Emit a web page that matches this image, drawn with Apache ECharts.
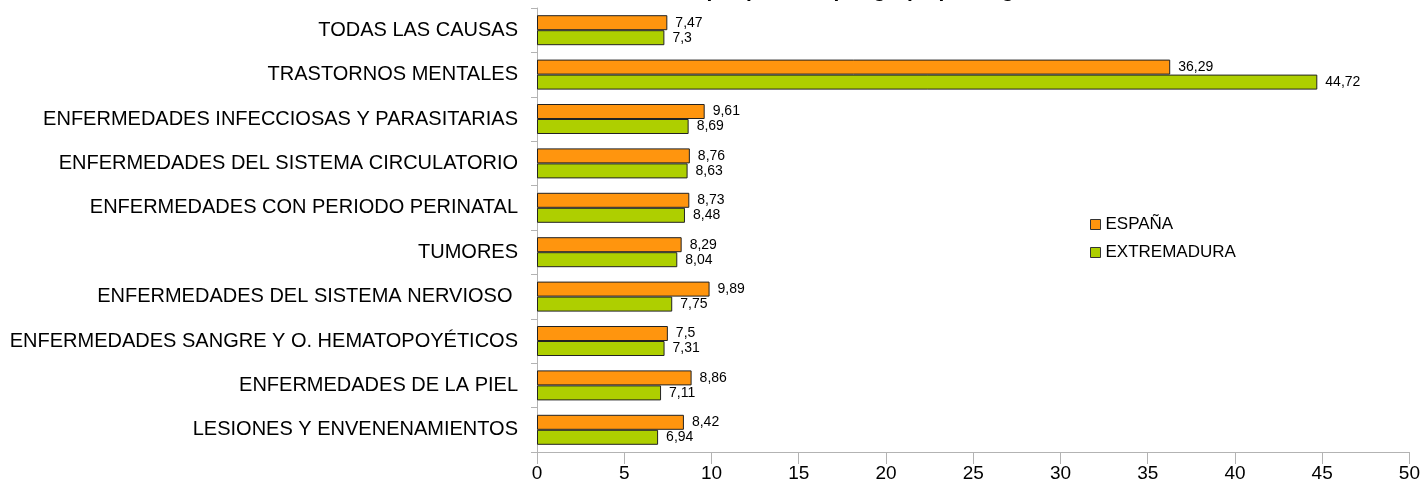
<!DOCTYPE html>
<html>
<head>
<meta charset="utf-8">
<script src="https://cdn.jsdelivr.net/npm/echarts@6/dist/echarts.min.js"></script>
<style>
html,body{margin:0;padding:0;background:#fff;}
#chart{width:1423px;height:491px;}
</style>
</head>
<body>
<div id="chart"></div>
<script>
const titleText = "Duración media por proceso por grupo patológico";
const categories = [
  "TODAS LAS CAUSAS",
  "TRASTORNOS MENTALES",
  "ENFERMEDADES INFECCIOSAS Y PARASITARIAS",
  "ENFERMEDADES DEL SISTEMA CIRCULATORIO",
  "ENFERMEDADES CON PERIODO PERINATAL",
  "TUMORES",
  "ENFERMEDADES DEL SISTEMA NERVIOSO ",
  "ENFERMEDADES SANGRE Y O. HEMATOPOYÉTICOS",
  "ENFERMEDADES DE LA PIEL",
  "LESIONES Y ENVENENAMIENTOS"
];
const seriesNames = ["ESPAÑA", "EXTREMADURA"];
const espana = [7.47, 36.29, 9.61, 8.76, 8.73, 8.29, 9.89, 7.5, 8.86, 8.42];
const extremadura = [7.3, 44.72, 8.69, 8.63, 8.48, 8.04, 7.75, 7.31, 7.11, 6.94];
const xTicks = {min: 0, max: 50, interval: 5};

const fmt = p => String(p.value).replace('.', ',');
const font = "'Liberation Sans', Arial, sans-serif";

const chart = echarts.init(document.getElementById('chart'), null, {renderer: 'canvas'});
chart.setOption({
  animation: false,
  backgroundColor: '#fff',
  title: {
    text: titleText, left: 538, top: -24,
    textStyle: {fontFamily: font, fontSize: 21, fontWeight: 'bold', color: '#000'}
  },
  legend: {
    orient: 'vertical', left: 1085, top: 211, itemGap: 11,
    itemWidth: 10, itemHeight: 10, icon: 'rect',
    textStyle: {fontFamily: font, fontSize: 17, color: '#000'},
    itemStyle: {borderColor: '#333', borderWidth: 1},
    data: seriesNames
  },
  grid: {left: 537, right: 13, top: 8, bottom: 39, containLabel: false},
  xAxis: {
    type: 'value', min: xTicks.min, max: xTicks.max, interval: xTicks.interval,
    axisLine: {show: true, lineStyle: {color: '#b3b3b3'}},
    axisTick: {show: true, length: 12, lineStyle: {color: '#b3b3b3'}},
    splitLine: {show: false},
    axisLabel: {fontFamily: font, fontSize: 19, color: '#000', margin: 12}
  },
  yAxis: {
    type: 'category', data: categories, inverse: true,
    axisLine: {show: true, lineStyle: {color: '#b3b3b3'}},
    axisTick: {show: true, length: 6, lineStyle: {color: '#b3b3b3'}},
    axisLabel: {fontFamily: font, fontSize: 20, color: '#000', margin: 19}
  },
  series: [
    {
      name: seriesNames[0], type: 'bar', data: espana, barWidth: 15, barGap: '0%',
      itemStyle: {color: '#ff950e', borderColor: '#222', borderWidth: 1},
      label: {show: true, position: 'right', distance: 8, formatter: fmt,
        fontFamily: font, fontSize: 14, color: '#000'}
    },
    {
      name: seriesNames[1], type: 'bar', data: extremadura, barWidth: 15,
      itemStyle: {color: '#aecf00', borderColor: '#222', borderWidth: 1},
      label: {show: true, position: 'right', distance: 8, formatter: fmt,
        fontFamily: font, fontSize: 14, color: '#000'}
    }
  ]
});
</script>
</body>
</html>
